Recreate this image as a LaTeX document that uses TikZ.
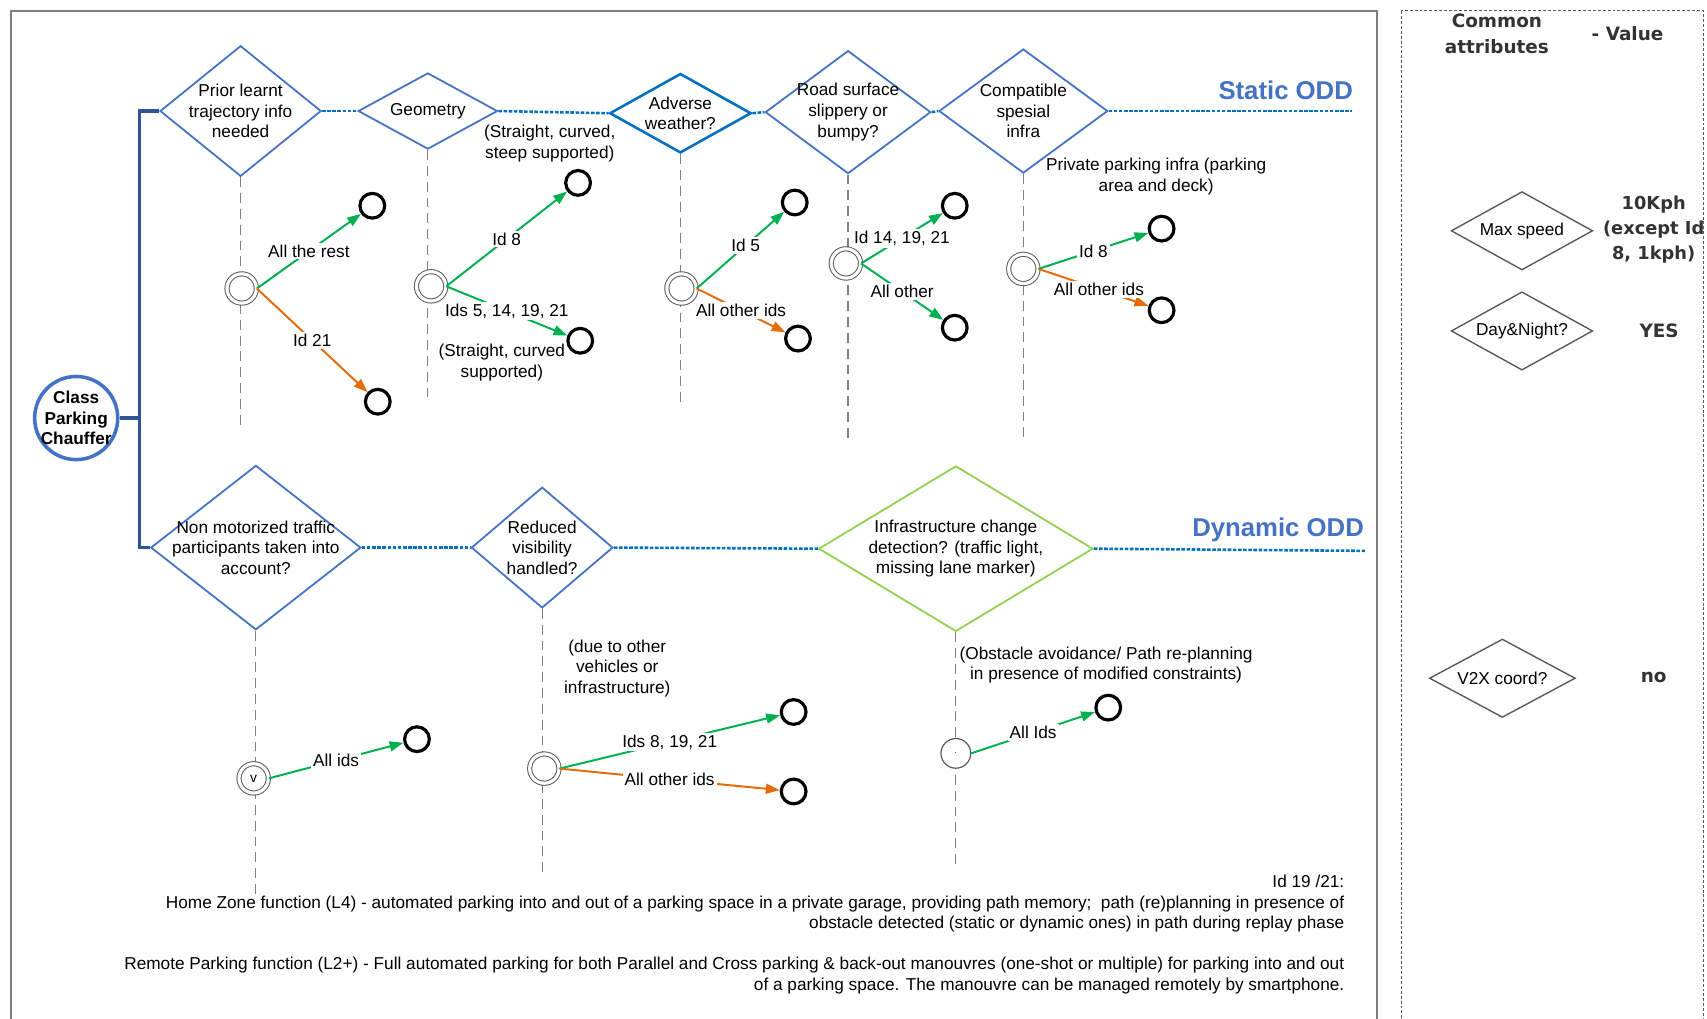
\documentclass[tikz,border=0pt]{standalone}
\usepackage{fontspec}
\setmainfont{Liberation Sans}
\newfontfamily\verdfont{DejaVu Sans}
\definecolor{OddBlue}{RGB}{68,114,196}
\definecolor{LineBlue}{RGB}{0,112,192}
\definecolor{BracketBlue}{RGB}{47,85,151}
\definecolor{YesGreen}{RGB}{0,176,80}
\definecolor{NoOrange}{RGB}{228,108,10}
\definecolor{ChangeGreen}{RGB}{146,208,80}
\definecolor{FrameGray}{RGB}{128,128,128}
\definecolor{DarkGray}{RGB}{89,89,89}
\usetikzlibrary{arrows.meta, shapes.geometric, positioning}

\begin{document}
\begin{tikzpicture}[
  x=0.55pt, y=-0.55pt,
  every node/.style={font=\fontsize{8.7}{10.45}\selectfont, inner sep=1pt},
  dia/.style 2 args={diamond, draw=OddBlue, line width=0.9pt, fill=white,
              inner sep=0pt, minimum width=#1*0.55pt, minimum height=#2*0.55pt},
  dtext/.style={align=center},
  cmdia/.style 2 args={dia={#1}{#2}, draw=DarkGray, line width=0.7pt},
  oddline/.style={LineBlue, line width=1.3pt, dash pattern=on 1.8pt off 0.8pt},
  vline/.style={FrameGray, line width=0.6pt, dash pattern=on 5pt off 3pt},
  bracket/.style={BracketBlue, line width=1.8pt},
  startst/.style={circle, draw=DarkGray, double, double distance=1.6pt,
                  line width=0.5pt, minimum size=14.8pt, inner sep=0pt, fill=white},
  endst/.style={circle, draw=black, line width=1.6pt, minimum size=12.5pt,
                inner sep=0pt, fill=white},
  yesarrow/.style={-{Triangle[length=7pt,width=5pt]}, YesGreen, line width=1pt},
  noarrow/.style={yesarrow, NoOrange},
  lbl/.style={fill=white, text=black, midway},
  note/.style={align=center},
  oddtitle/.style={font=\fontsize{13}{15}\selectfont\bfseries, text=OddBlue},
  common/.style={font=\verdfont\fontsize{9.3}{12.8}\selectfont\bfseries,
                 text=black!80, align=center},
]
  \useasboundingbox (0,0) rectangle (1568,936);
  \draw[FrameGray, line width=1pt] (10,10) rectangle (1265,960);
  \draw[DarkGray, line width=0.6pt, dash pattern=on 1.5pt off 1pt] (1287,10) rectangle (1565,960);

  % class node and bracket
  \node[circle, draw=OddBlue, line width=1.8pt, minimum size=42pt, inner sep=0pt, fill=white,
        label={[dtext, font=\fontsize{8.7}{10.45}\selectfont\bfseries]center:Class\\Parking\\Chauffer}]
        (cls) at (70,384) {};

  % static ODD
  \node[dia={148}{120}, label={[dtext]center:Prior learnt\\trajectory info\\needed}] (prior) at (221,102) {};
  \node[dia={128}{70}, label={[dtext]center:Geometry}] (geom) at (393,102) {};
  \node[dia={130}{73}, draw=LineBlue, line width=1.3pt,
        label={[dtext]center:Adverse\\weather?}] (weather) at (625,104) {};
  \node[dia={152}{113}, label={[dtext]center:Road surface\\slippery or\\bumpy?}] (road) at (779,103) {};
  \node[dia={155}{114}, label={[dtext]center:Compatible\\spesial\\infra}] (infra) at (940,102) {};
  \coordinate (staticend) at (1242,102);
  \node[oddtitle] (static) at (1181,83) {Static ODD};

  % dynamic ODD
  \node[dia={193}{151}, label={[dtext]center:Non motorized traffic\\participants taken into\\account?}] (nonmot) at (235,503) {};
  \node[dia={130}{111}, label={[dtext]center:Reduced\\visibility\\handled?}] (visib) at (498,503) {};
  \node[dia={252}{152}, draw=ChangeGreen,
        label={[dtext]center:{Infrastructure change\\detection? (traffic light,\\missing lane marker)}}] (change) at (878,504) {};
  \coordinate (dynend) at (1255,506);
  \node[oddtitle] (dynamic) at (1174,487) {Dynamic ODD};

  \coordinate (bk) at (128,384);
  \draw[bracket] (cls.east) -- (bk);
  \draw[bracket] (prior.west) -| (bk) |- (nonmot.west);

  \draw[oddline] (prior.east) -- (geom.west);
  \draw[oddline] (geom.east) -- (weather.west);
  \draw[oddline] (weather.east) -- (road.west);
  \draw[oddline] (road.east) -- (infra.west);
  \draw[oddline] (infra.east) -- (staticend);
  \draw[oddline] (nonmot.east) -- (visib.west);
  \draw[oddline] (visib.east) -- (change.west);
  \draw[oddline] (change.east) -- (dynend);

  % life lines
  \coordinate (priorlow) at (221,390);
  \coordinate (geomlow) at (393,367);
  \coordinate (weatherlow) at (625,373);
  \coordinate (roadlow) at (779,405);
  \coordinate (infralow) at (940,402);
  \coordinate (nonmotlow) at (235,825);
  \coordinate (visiblow) at (498,805);
  \coordinate (changelow) at (878,797);
  \draw[vline] (prior.south) -- (priorlow);
  \draw[vline] (geom.south) -- (geomlow);
  \draw[vline] (weather.south) -- (weatherlow);
  \draw[vline] (road.south) -- (roadlow);
  \draw[vline] (infra.south) -- (infralow);
  \draw[vline] (nonmot.south) -- (nonmotlow);
  \draw[vline] (visib.south) -- (visiblow);
  \draw[vline] (change.south) -- (changelow);

  % notes
  \node[note] (geomnote) at (505,132) {(Straight, curved,\\steep supported)};
  \node[note] (geomnote2) at (461,333) {(Straight, curved\\supported)};
  \node[note] (infranote) at (1062,162) {Private parking infra (parking\\area and deck)};
  \node[note] (visibnote) at (567,614) {(due to other\\vehicles or\\infrastructure)};
  \node[note] (changenote) at (1016,611) {(Obstacle avoidance/ Path re-planning\\in presence of modified constraints)};

  % states
  \node[startst] (s1) at (222,265) {};
  \node[endst] (t1a) at (342,189) {};
  \node[endst] (t1b) at (347,369) {};
  \draw[yesarrow] (s1.east) -- node[lbl] {All the rest} (t1a);
  \draw[noarrow] (s1.east) -- node[lbl] {Id 21} (t1b);

  \node[startst] (s2) at (396,263) {};
  \node[endst] (t2a) at (531,168) {};
  \node[endst] (t2b) at (533,313) {};
  \draw[yesarrow] (s2.east) -- node[lbl] {Id 8} (t2a);
  \draw[yesarrow] (s2.east) -- node[lbl] {Ids 5, 14, 19, 21} (t2b);

  \node[startst] (s3) at (626,265) {};
  \node[endst] (t3a) at (730,186) {};
  \node[endst] (t3b) at (733,311) {};
  \draw[yesarrow] (s3.east) -- node[lbl, pos=0.56] {Id 5} (t3a);
  \draw[noarrow] (s3.east) -- node[lbl] {All other ids} (t3b);

  \node[startst] (s4) at (777,242) {};
  \node[endst] (t4a) at (877,189) {};
  \node[endst] (t4b) at (877,301) {};
  \draw[yesarrow] (s4.east) -- node[lbl] {Id 14, 19, 21} (t4a);
  \draw[yesarrow] (s4.east) -- node[lbl] {All other} (t4b);

  \node[startst] (s5) at (940,247) {};
  \node[endst] (t5a) at (1067,210) {};
  \node[endst] (t5b) at (1067,285) {};
  \draw[yesarrow] (s5.east) -- node[lbl] {Id 8} (t5a);
  \draw[noarrow] (s5.east) -- node[lbl, pos=0.55] {All other ids} (t5b);

  \node[startst, font=\fontsize{7}{8}\selectfont] (s6) at (233,715) {v};
  \node[endst] (t6) at (383,679) {};
  \draw[yesarrow] (s6.east) -- node[lbl] {All ids} (t6);

  \node[startst] (s7) at (500,706) {};
  \node[endst] (t7a) at (729,654) {};
  \node[endst] (t7b) at (729,727) {};
  \draw[yesarrow] (s7.east) -- node[lbl] {Ids 8, 19, 21} (t7a);
  \draw[noarrow] (s7.east) -- node[lbl] {All other ids} (t7b);

  \node[circle, draw=DarkGray, line width=0.6pt, minimum size=15pt, inner sep=0pt, fill=white,
        font=\fontsize{5}{6}\selectfont, text=LineBlue] (s8) at (878,692) {.};
  \node[endst] (t8) at (1018,650) {};
  \draw[yesarrow] (s8.east) -- node[lbl] {All Ids} (t8);

  % common attributes
  \node[common] (commonhd) at (1375,31) {Common\\attributes};
  \node[common] (valuehd) at (1495,31) {- Value};
  \node[cmdia={130}{72}, label={[dtext]center:Max speed}] (maxspeed) at (1398,212) {};
  \node[common, font=\verdfont\fontsize{9}{12.8}\selectfont\bfseries] (maxval) at (1519,211) {10Kph\\(except Id\\8, 1kph)};
  \node[cmdia={130}{72}, label={[dtext]center:Day\&Night?}] (daynight) at (1398,304) {};
  \node[common] (dayval) at (1524,304) {YES};
  \node[cmdia={134}{72}, label={[dtext]center:V2X coord?}] (vtwox) at (1380,623) {};
  \node[common] (vtwoxval) at (1519,622) {no};

  % functions
  \node[anchor=east, align=right] (homezone) at (1237,830)
    {Id 19 /21:\\Home Zone function (L4) - automated parking into and out of a parking space in a private garage, providing path memory;~ path (re)planning in presence of\\obstacle detected (static or dynamic ones) in path during replay phase};
  \node[anchor=east, align=right] (remote) at (1237,896)
    {Remote Parking function (L2+) - Full automated parking for both Parallel and Cross parking \& back-out manouvres (one-shot or multiple) for parking into and out\\of a parking space. The manouvre can be managed remotely by smartphone.};
\end{tikzpicture}
\end{document}
